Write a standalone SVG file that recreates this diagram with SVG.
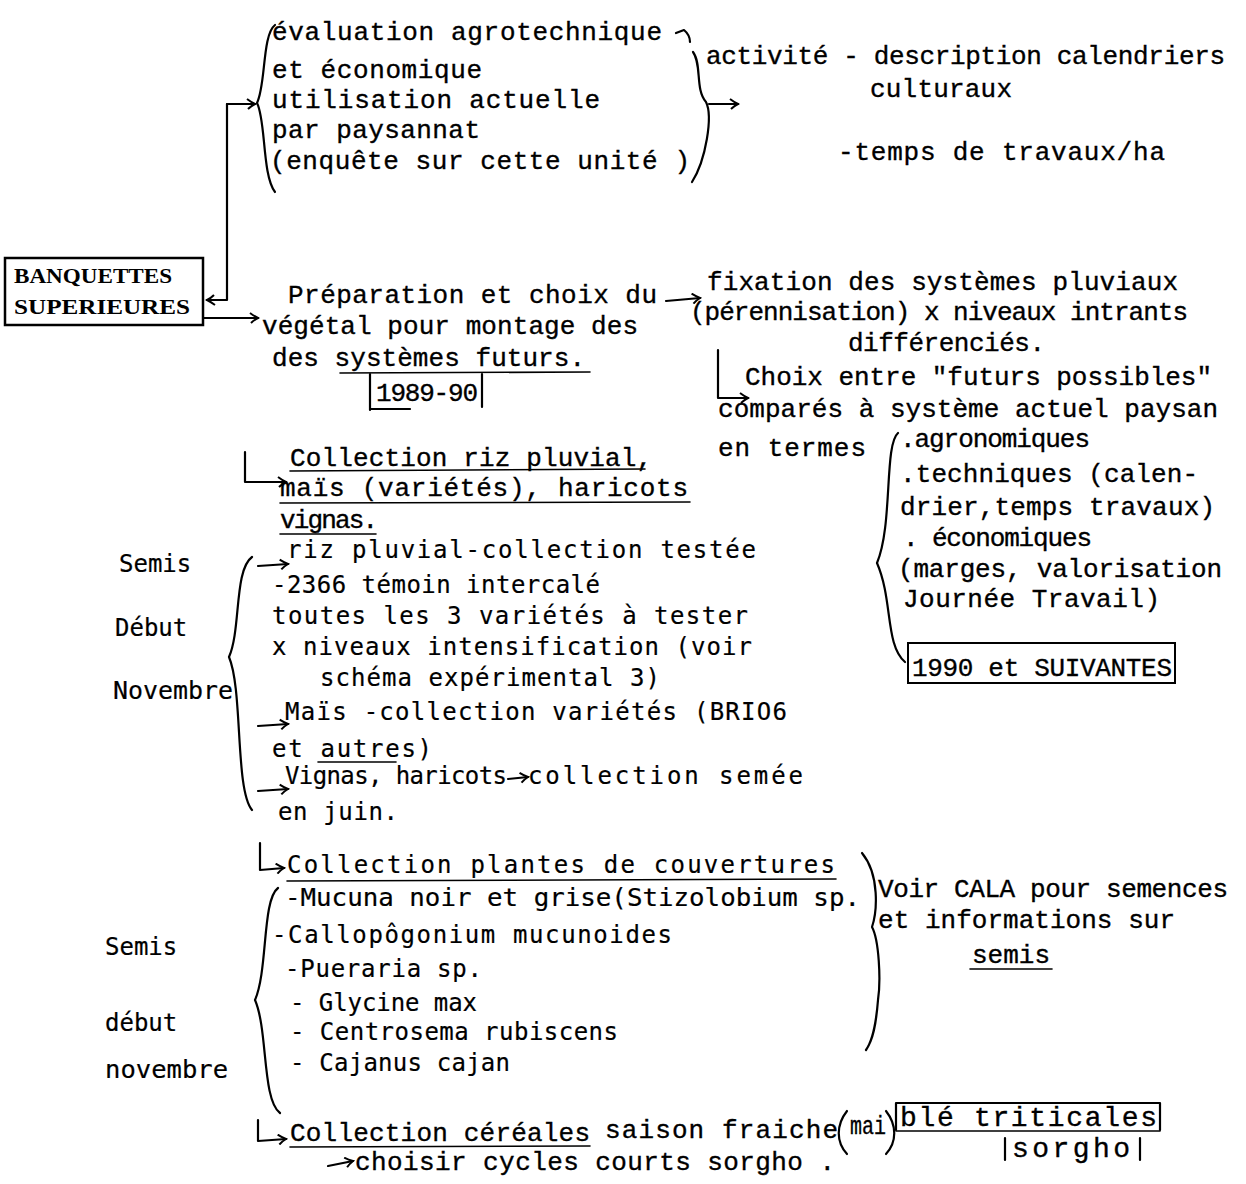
<svg xmlns="http://www.w3.org/2000/svg" width="1246" height="1184" viewBox="0 0 1246 1184">
<style>
text{fill:#000;stroke:#000;stroke-width:0.35;font-family:"Liberation Mono","DejaVu Sans Mono",monospace;font-size:26px}
.s{font-family:"DejaVu Sans Mono","Liberation Mono",monospace;font-size:24px;stroke-width:0.2}
.b{font-family:"Liberation Serif","Times New Roman",serif;font-weight:bold;font-size:22px;stroke-width:0}
.big{font-size:28px}
.ln{fill:none;stroke:#000;stroke-width:2.2;stroke-linecap:round;stroke-linejoin:round}
.th{fill:none;stroke:#000;stroke-width:1.6;stroke-linecap:round}
</style>
<defs>
<marker id="ah" viewBox="0 0 12 12" refX="10" refY="6" markerWidth="12" markerHeight="12" orient="auto" markerUnits="userSpaceOnUse">
<path d="M2 1 Q6 4 10 6 Q6 8 3 11" fill="none" stroke="#000" stroke-width="2"/>
</marker>
</defs>
<rect width="1246" height="1184" fill="#fff"/>

<g id="connectors">
<path class="ln" d="M227 104 L227 300 L207 300" marker-end="url(#ah)"/>
<path class="ln" d="M227 104 L255 104" marker-end="url(#ah)"/>
<path class="ln" d="M203 318 L258 318" marker-end="url(#ah)"/>
<path class="ln" d="M709 104 L738 104" marker-end="url(#ah)"/>
<path class="ln" d="M666 301 L700 298" marker-end="url(#ah)"/>
<path class="ln" d="M718 350 L718 398 L748 398" marker-end="url(#ah)"/>
<path class="ln" d="M245 452 L245 482 L286 482" marker-end="url(#ah)"/>
<path class="ln" d="M258 566 L288 564" marker-end="url(#ah)"/>
<path class="ln" d="M258 726 L288 724" marker-end="url(#ah)"/>
<path class="ln" d="M258 791 L288 789" marker-end="url(#ah)"/>
<path class="ln" d="M508 779 L528 777" marker-end="url(#ah)"/>
<path class="ln" d="M260 843 L260 870 L284 868" marker-end="url(#ah)"/>
<path class="ln" d="M258 1120 L258 1141 L286 1139" marker-end="url(#ah)"/>
<path class="ln" d="M328 1166 L353 1161" marker-end="url(#ah)"/>
</g>

<g id="n-banquettes">
<rect x="5" y="258" width="198" height="67" fill="none" stroke="#000" stroke-width="2.5"/>
<text class="b" x="14" y="283" textLength="158" lengthAdjust="spacingAndGlyphs">BANQUETTES</text>
<text class="b" x="14" y="314" textLength="176" lengthAdjust="spacingAndGlyphs">SUPERIEURES</text>
</g>

<g id="n-evaluation">
<path class="ln" d="M275 25 C262 35 266 85 257 103 C266 120 262 175 275 192"/>
<path class="ln" d="M676 33 L684 30 Q690 35 690 42"/>
<path class="ln" d="M693 52 C702 64 695 90 706 102 C713 116 706 160 692 182"/>
<text x="272" y="40" textLength="390" lengthAdjust="spacing">évaluation agrotechnique</text>
<text x="272" y="78" textLength="210" lengthAdjust="spacing">et économique</text>
<text x="272" y="108" textLength="328" lengthAdjust="spacing">utilisation actuelle</text>
<text x="272" y="138" textLength="208" lengthAdjust="spacing">par paysannat</text>
<text x="270" y="169" textLength="420" lengthAdjust="spacing">(enquête sur cette unité )</text>
</g>

<g id="n-activite">
<text x="706" y="64" textLength="519" lengthAdjust="spacing">activité - description calendriers</text>
<text x="870" y="97" textLength="142" lengthAdjust="spacing">culturaux</text>
<text x="838" y="160" textLength="327" lengthAdjust="spacing">-temps de travaux/ha</text>
</g>

<g id="n-preparation">
<text x="288" y="303" textLength="369" lengthAdjust="spacing">Préparation et choix du</text>
<text x="262" y="334" textLength="376" lengthAdjust="spacing">végétal pour montage des</text>
<text x="272" y="366" textLength="313" lengthAdjust="spacing">des systèmes futurs.</text>
<path class="th" d="M340 373 L590 372"/>
<path class="ln" d="M370 374 L370 410 M482 374 L482 407 M370 409 L410 409"/>
<text x="376" y="401" textLength="102" lengthAdjust="spacing">1989-90</text>
</g>

<g id="n-fixation">
<text x="707" y="290" textLength="471" lengthAdjust="spacing">fixation des systèmes pluviaux</text>
<text x="690" y="320" textLength="498" lengthAdjust="spacing">(pérennisation) x niveaux intrants</text>
<text x="848" y="351" textLength="197" lengthAdjust="spacing">différenciés.</text>
</g>

<g id="n-choix">
<text x="745" y="385" textLength="467" lengthAdjust="spacing">Choix entre "futurs possibles"</text>
<text x="718" y="417" textLength="500" lengthAdjust="spacing">comparés à système actuel paysan</text>
<text x="718" y="456" textLength="148" lengthAdjust="spacing">en termes</text>
<path class="ln" d="M898 433 C884 445 893 525 877 563 C893 600 885 645 905 662"/>
<text x="900" y="447" textLength="190" lengthAdjust="spacing">.agronomiques</text>
<text x="900" y="482" textLength="298" lengthAdjust="spacing">.techniques (calen-</text>
<text x="900" y="515" textLength="315" lengthAdjust="spacing">drier,temps travaux)</text>
<text x="903" y="546" textLength="189" lengthAdjust="spacing">. économiques</text>
<text x="898" y="577" textLength="324" lengthAdjust="spacing">(marges, valorisation</text>
<text x="903" y="607" textLength="257" lengthAdjust="spacing">Journée Travail)</text>
</g>

<g id="n-1990">
<rect x="908" y="643" width="267" height="40" fill="none" stroke="#000" stroke-width="2"/>
<text x="912" y="676" textLength="260" lengthAdjust="spacing">1990 et SUIVANTES</text>
</g>

<g id="n-collection-riz">
<text x="290" y="466" textLength="362" lengthAdjust="spacing">Collection riz pluvial,</text>
<text x="280" y="496" textLength="408" lengthAdjust="spacing">maïs (variétés), haricots</text>
<text x="280" y="528" textLength="98" lengthAdjust="spacing">vignas.</text>
<path class="th" d="M290 471 L645 469 M280 503 L690 502 M280 534 L376 534"/>
</g>

<g id="n-semis-riz">
<text class="s" x="119" y="572">Semis</text>
<text class="s" x="115" y="636">Début</text>
<text class="s" x="113" y="699" textLength="120" lengthAdjust="spacingAndGlyphs">Novembre</text>
<path class="ln" d="M252 557 C234 570 241 630 229 657 C243 690 235 790 252 810"/>
<text class="s" x="287" y="558" textLength="469" lengthAdjust="spacing">riz pluvial-collection testée</text>
<text class="s" x="272" y="593" textLength="328" lengthAdjust="spacing">-2366 témoin intercalé</text>
<text class="s" x="272" y="624" textLength="476" lengthAdjust="spacing">toutes les 3 variétés à tester</text>
<text class="s" x="272" y="655" textLength="480" lengthAdjust="spacing">x niveaux intensification (voir</text>
<text class="s" x="320" y="686" textLength="340" lengthAdjust="spacing">schéma expérimental 3)</text>
<text class="s" x="285" y="720" textLength="502" lengthAdjust="spacing">Maïs -collection variétés (BRIO6</text>
<text class="s" x="272" y="757" textLength="160" lengthAdjust="spacing">et autres)</text>
<path class="th" d="M318 762 L396 762"/>
<text class="s" x="285" y="784" textLength="222" lengthAdjust="spacing">Vignas, haricots</text>
<text class="s" x="528" y="784" textLength="275" lengthAdjust="spacing">collection semée</text>
<text class="s" x="278" y="820" textLength="120" lengthAdjust="spacing">en juin.</text>
</g>

<g id="n-couvertures">
<text class="s" x="287" y="873" textLength="548" lengthAdjust="spacing">Collection plantes de couvertures</text>
<path class="th" d="M287 881 L836 879"/>
<text class="s" x="105" y="955">Semis</text>
<text class="s" x="105" y="1031">début</text>
<text class="s" x="105" y="1078" textLength="123" lengthAdjust="spacingAndGlyphs">novembre</text>
<path class="ln" d="M278 888 C262 900 268 970 255 1000 C268 1030 262 1100 280 1113"/>
<text class="s" x="285" y="906" textLength="575" lengthAdjust="spacingAndGlyphs">-Mucuna noir et grise(Stizolobium sp.</text>
<text class="s" x="272" y="943" textLength="400" lengthAdjust="spacing">-Callopôgonium mucunoides</text>
<text class="s" x="285" y="977" textLength="197" lengthAdjust="spacing">-Pueraria sp.</text>
<text class="s" x="290" y="1011" textLength="187" lengthAdjust="spacing">- Glycine max</text>
<text class="s" x="290" y="1040" textLength="328" lengthAdjust="spacing">- Centrosema rubiscens</text>
<text class="s" x="290" y="1071" textLength="220" lengthAdjust="spacing">- Cajanus cajan</text>
<path class="ln" d="M862 853 C880 875 877 912 872 927 C879 940 881 980 878 1000 C876 1025 873 1040 866 1050"/>
</g>

<g id="n-cala">
<text x="878" y="897" textLength="350" lengthAdjust="spacing">Voir CALA pour semences</text>
<text x="878" y="928" textLength="297" lengthAdjust="spacing">et informations sur</text>
<text x="972" y="963" textLength="78" lengthAdjust="spacing">semis</text>
<path class="th" d="M970 969 L1052 969"/>
</g>

<g id="n-cereales">
<text x="290" y="1141" textLength="300" lengthAdjust="spacing">Collection céréales</text>
<path class="th" d="M290 1147 L590 1146"/>
<text x="605" y="1138" textLength="233" lengthAdjust="spacing">saison fraiche</text>
<path class="ln" d="M847 1111 C836 1125 836 1142 847 1154 M886 1111 C897 1125 897 1142 886 1154"/>
<text x="850" y="1134" textLength="36" lengthAdjust="spacingAndGlyphs">mai</text>
<path class="ln" d="M896 1130 L896 1103 L1160 1103 L1160 1130"/>
<path class="th" d="M896 1131 L1160 1131"/>
<text class="big" x="900" y="1126" textLength="257" lengthAdjust="spacing">blé triticales</text>
<path class="ln" d="M1005 1138 L1005 1160 M1140 1138 L1140 1160"/>
<text class="big" x="1012" y="1157" textLength="118" lengthAdjust="spacing">sorgho</text>
<text x="355" y="1170" textLength="480" lengthAdjust="spacing">choisir cycles courts sorgho .</text>
</g>
</svg>
